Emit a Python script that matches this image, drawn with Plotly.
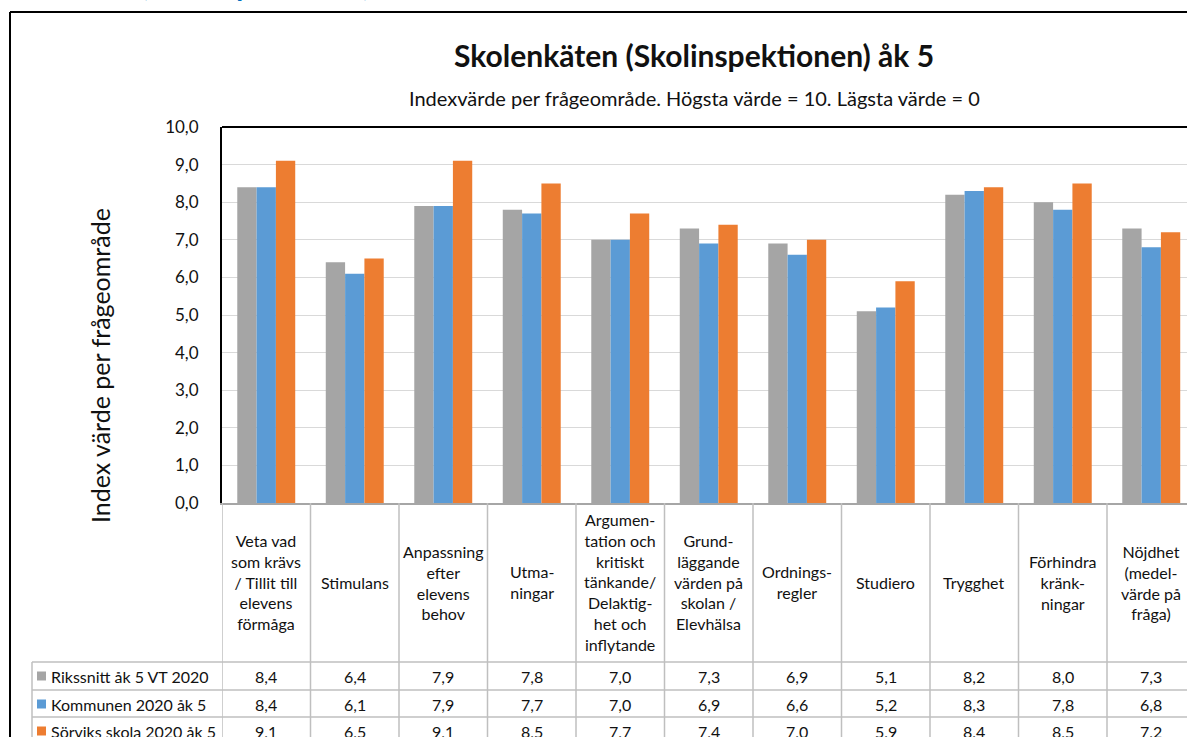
import plotly.graph_objects as go

# ---------------- data ----------------
categories = ["Veta vad som krävs / Tillit till elevens förmåga", "Stimulans",
              "Anpassning efter elevens behov", "Utmaningar",
              "Argumentation och kritiskt tänkande/ Delaktighet och inflytande",
              "Grundläggande värden på skolan / Elevhälsa", "Ordningsregler",
              "Studiero", "Trygghet", "Förhindra kränkningar",
              "Nöjdhet (medelvärde på fråga)"]
category_labels = ["Veta vad<br>som krävs<br>/ Tillit till<br>elevens<br>förmåga",
                   "Stimulans",
                   "Anpassning<br>efter<br>elevens<br>behov",
                   "Utma-<br>ningar",
                   "Argumen-<br>tation och<br>kritiskt<br>tänkande/<br>Delaktig-<br>het och<br>inflytande",
                   "Grund-<br>läggande<br>värden på<br>skolan /<br>Elevhälsa",
                   "Ordnings-<br>regler",
                   "Studiero",
                   "Trygghet",
                   "Förhindra<br>kränk-<br>ningar",
                   "Nöjdhet<br>(medel-<br>värde på<br>fråga)"]
series_names = ["Rikssnitt åk 5 VT 2020", "Kommunen 2020 åk 5", "Sörviks skola 2020 åk 5"]
rikssnitt = [8.4, 6.4, 7.9, 7.8, 7.0, 7.3, 6.9, 5.1, 8.2, 8.0, 7.3]
kommunen = [8.4, 6.1, 7.9, 7.7, 7.0, 6.9, 6.6, 5.2, 8.3, 7.8, 6.8]
sorviks = [9.1, 6.5, 9.1, 8.5, 7.7, 7.4, 7.0, 5.9, 8.4, 8.5, 7.2]
series_values = [rikssnitt, kommunen, sorviks]
colors = ["#A5A5A5", "#5B9BD5", "#ED7D31"]

title_text = "Skolenkäten (Skolinspektionen) åk 5"
subtitle_text = "Indexvärde per frågeområde. Högsta värde = 10. Lägsta värde = 0"
ytitle_text = "Index värde per frågeområde"
ytick_vals = [0, 1, 2, 3, 4, 5, 6, 7, 8, 9, 10]

# ---------------- layout geometry ----------------
W, H = 1187, 737
L, T, B = 222, 127, 503
PW = W - L
PH = B - T
CW = 88.5  # pixel width of a category

def px(xp):
    return (xp - L) / PW

def py(yp):
    return (B - yp) / PH

FONT = "Lato"
TXT = "#111111"
GRID = "#BFBFBF"

fig = go.Figure()
for name, vals, col in zip(series_names, series_values, colors):
    fig.add_trace(go.Bar(x=categories, y=vals, name=name, marker_color=col,
                         marker_line_width=0, showlegend=False))

shapes = []
annotations = []

# outer chart frame
shapes.append(dict(type="line", xref="paper", yref="paper", x0=px(10), x1=px(1300),
                   y0=py(12), y1=py(12), line=dict(color="black", width=2)))
shapes.append(dict(type="line", xref="paper", yref="paper", x0=px(10), x1=px(10),
                   y0=py(12), y1=py(800), line=dict(color="black", width=2)))
# plot area top border
shapes.append(dict(type="line", xref="paper", yref="paper", x0=0, x1=px(1300),
                   y0=1, y1=1, line=dict(color="black", width=2)))

# table: column boundaries
n = len(categories)
for i in range(n + 1):
    shapes.append(dict(type="line", xref="x", yref="paper", x0=i - 0.5, x1=i - 0.5,
                       y0=0, y1=py(800), line=dict(color=GRID, width=1.5)))
# row lines
row_lines = [662, 690, 717]
for r in row_lines:
    shapes.append(dict(type="line", xref="paper", yref="paper", x0=px(32), x1=px(1300),
                       y0=py(r), y1=py(r), line=dict(color=GRID, width=1.5)))
shapes.append(dict(type="line", xref="paper", yref="paper", x0=px(32), x1=px(32),
                   y0=py(662), y1=py(800), line=dict(color=GRID, width=1.5)))

# header labels
for i, lab in enumerate(category_labels):
    annotations.append(dict(x=i, y=py(582), xref="x", yref="paper", text=lab,
                            showarrow=False, xanchor="center", yanchor="middle",
                            font=dict(family=FONT, size=16, color=TXT), align="center"))

# data rows
row_centers = [676, 704, 731]
for name, vals, col, rc in zip(series_names, series_values, colors, row_centers):
    shapes.append(dict(type="rect", xref="paper", yref="paper", x0=px(37), x1=px(46),
                       y0=py(rc + 4.5), y1=py(rc - 4.5), fillcolor=col, line=dict(width=0)))
    annotations.append(dict(x=px(49), y=py(rc), xref="paper", yref="paper", text=name,
                            showarrow=False, xanchor="left", yanchor="middle",
                            font=dict(family=FONT, size=16, color=TXT)))
    for i, v in enumerate(vals):
        annotations.append(dict(x=i, y=py(rc), xref="x", yref="paper",
                                text=f"{v:.1f}".replace(".", ","), showarrow=False,
                                xanchor="center", yanchor="middle",
                                font=dict(family=FONT, size=16, color=TXT)))

# titles
annotations.append(dict(x=px(694), y=py(55), xref="paper", yref="paper", text="<b>" + title_text + "</b>",
                        showarrow=False, xanchor="center", yanchor="middle",
                        font=dict(family=FONT, size=30, color=TXT)))
annotations.append(dict(x=px(694), y=py(98), xref="paper", yref="paper", text=subtitle_text,
                        showarrow=False, xanchor="center", yanchor="middle",
                        font=dict(family=FONT, size=20, color=TXT)))
annotations.append(dict(x=px(100), y=py(365), xref="paper", yref="paper", text=ytitle_text,
                        showarrow=False, xanchor="center", yanchor="middle", textangle=-90,
                        font=dict(family=FONT, size=25, color=TXT)))
# clipped heading above the chart (only the bottom is visible)
annotations.append(dict(x=px(372), y=py(4), xref="paper", yref="paper",
                        text="<b>Skolenkäten (Skolinspektionen)</b>",
                        showarrow=False, xanchor="right", yanchor="bottom",
                        font=dict(family=FONT, size=28, color="#0070C0")))

fig.update_layout(
    width=W, height=H,
    margin=dict(l=L, r=0, t=T, b=H - B, pad=0),
    paper_bgcolor="white", plot_bgcolor="white",
    barmode="group", bargap=0.345, bargroupgap=0,
    separators=", ",
    shapes=shapes, annotations=annotations,
    showlegend=False,
    xaxis=dict(type="category", categoryorder="array", categoryarray=categories,
               range=[-0.5, -0.5 + PW / CW], showticklabels=False, showgrid=False,
               zeroline=False, showline=True, linecolor="#A6A6A6", linewidth=1.5,
               fixedrange=True),
    yaxis=dict(range=[0, 10], tickvals=ytick_vals, tickformat=".1f", showgrid=True,
               gridcolor="#D9D9D9", gridwidth=1, zeroline=False, showline=True,
               linecolor="black", linewidth=2, ticks="", ticklabelstandoff=18,
               tickfont=dict(family=FONT, size=17, color=TXT), fixedrange=True),
)

fig.write_html("out.html", config={"displayModeBar": False},
               post_script="document.body.style.margin='0px';document.body.style.overflow='hidden';")
